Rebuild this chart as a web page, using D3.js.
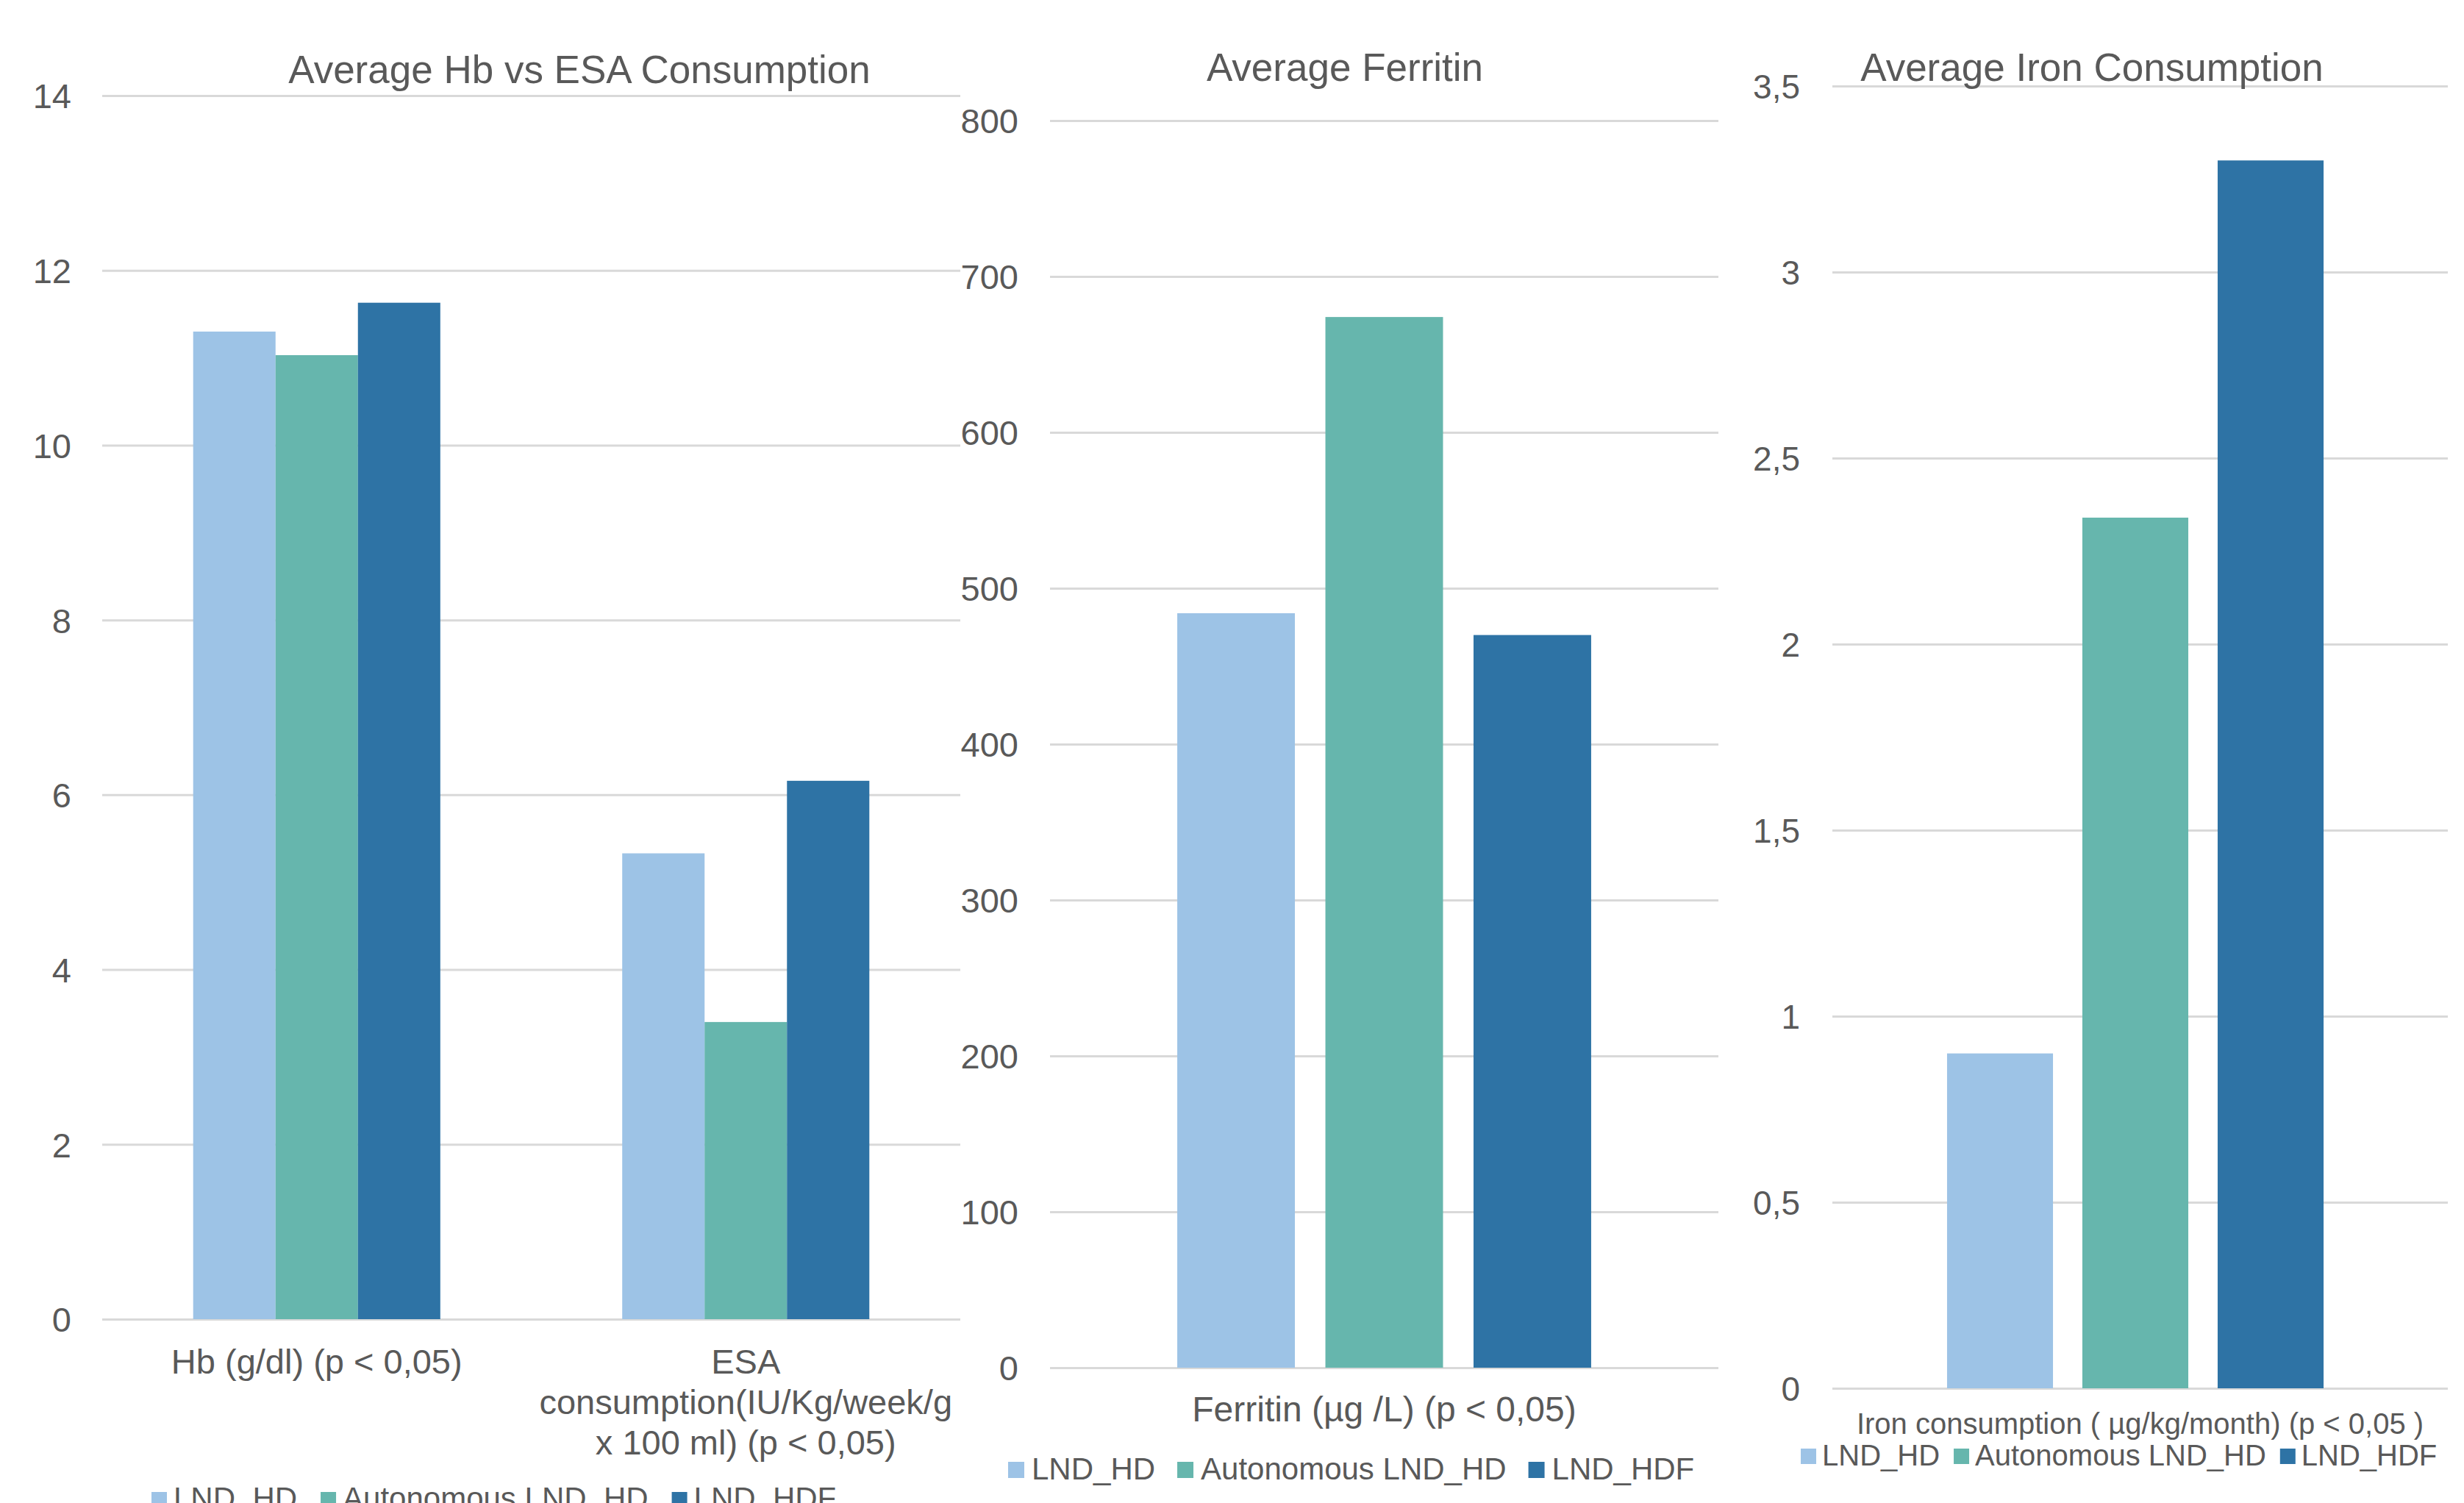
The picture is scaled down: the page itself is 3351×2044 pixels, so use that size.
<!DOCTYPE html>
<html>
<head>
<meta charset="utf-8">
<script src="https://cdn.jsdelivr.net/npm/d3@7"></script>
<style>
  html, body { margin: 0; padding: 0; background: #ffffff; }
  svg { display: block; font-family: "Liberation Sans", Arial, sans-serif; }
</style>
</head>
<body>
<svg id="chart" width="3351" height="2044"></svg>
<script>
// Patient groups compared in every panel
const groups = ["LND_HD", "Autonomous LND_HD", "LND_HDF"];

// Panel 1 – average haemoglobin vs ESA consumption
const hbEsaCategories = ["Hb", "ESA"];
const hbEsaCategoryLabels = [
  ["Hb (g/dl) (p < 0,05)"],
  ["ESA", "consumption(IU/Kg/week/g", "x 100 ml) (p < 0,05)"]
];
const hbValues = [11.30, 11.03, 11.63];
const esaValues = [5.33, 3.40, 6.16];
const hbEsaTicks = [0, 2, 4, 6, 8, 10, 12, 14];

// Panel 2 – average ferritin
const ferritinLabel = "Ferritin (µg /L) (p < 0,05)";
const ferritinValues = [484, 674, 470];
const ferritinTicks = [0, 100, 200, 300, 400, 500, 600, 700, 800];

// Panel 3 – average iron consumption
const ironLabel = "Iron consumption ( µg/kg/month) (p < 0,05 )";
const ironValues = [0.90, 2.34, 3.30];
const ironTicks = [0, 0.5, 1, 1.5, 2, 2.5, 3, 3.5];

const panelTitles = ["Average Hb vs ESA Consumption", "Average Ferritin", "Average Iron Consumption"];

// Styling
const color = d3.scaleOrdinal().domain(groups).range(["#9DC3E6", "#66B6AD", "#2E73A5"]);
const textColor = "#595959";
const gridColor = "#D9D9D9";
const FONT = '"Liberation Sans", Arial, sans-serif';

// Decimal comma number format
const locale = d3.formatLocale({ decimal: ",", thousands: ".", grouping: [3], currency: ["", " €"] });
const fmt = locale.format(".1~f");

const svg = d3.select("#chart");

function drawGrid(g, y, ticks, x0, x1, pad, fontSize) {
  const axis = d3.axisLeft(y)
    .tickValues(ticks)
    .tickSize(-(x1 - x0))
    .tickPadding(pad)
    .tickFormat(fmt);
  g.attr("transform", `translate(${x0},0)`).call(axis);
  g.attr("font-family", FONT).attr("font-size", fontSize);
  g.select(".domain").remove();
  g.selectAll(".tick line").attr("stroke", gridColor).attr("stroke-width", 3);
  g.selectAll(".tick text").attr("fill", textColor).attr("dy", "0.36em");
}

function drawTitle(text, cx, baseline, fontSize) {
  svg.append("text")
    .attr("x", cx).attr("y", baseline)
    .attr("text-anchor", "middle")
    .attr("font-size", fontSize)
    .attr("fill", textColor)
    .text(text);
}

function drawLegend(x, baseline, fontSize, sq, gapSquare, gapItem) {
  const g = svg.append("g").attr("font-size", fontSize).attr("fill", textColor);
  let cx = x;
  groups.forEach(name => {
    g.append("rect")
      .attr("x", cx).attr("y", baseline - sq - 2)
      .attr("width", sq).attr("height", sq)
      .attr("fill", color(name));
    const t = g.append("text")
      .attr("x", cx + sq + gapSquare).attr("y", baseline)
      .text(name);
    cx += sq + gapSquare + t.node().getComputedTextLength() + gapItem;
  });
}

// ---------- Panel 1: grouped bars ----------
{
  const x0 = 139, x1 = 1306;
  const y = d3.scaleLinear().domain([0, 14]).range([1794, 130]);
  const xCat = d3.scaleBand().domain(hbEsaCategories).range([x0, x1])
    .paddingInner(0.424).paddingOuter(0.212);
  const xGrp = d3.scaleBand().domain(groups).range([0, xCat.bandwidth()]);

  drawGrid(svg.append("g"), y, hbEsaTicks, x0, x1, 42, 47);

  const series = [hbValues, esaValues];
  const cat = svg.append("g").selectAll("g")
    .data(hbEsaCategories)
    .join("g")
    .attr("transform", d => `translate(${xCat(d)},0)`);
  cat.selectAll("rect")
    .data((d, i) => groups.map((grp, j) => ({ grp, value: series[i][j] })))
    .join("rect")
    .attr("x", d => xGrp(d.grp))
    .attr("width", xGrp.bandwidth())
    .attr("y", d => y(d.value))
    .attr("height", d => y(0) - y(d.value))
    .attr("fill", d => color(d.grp));

  // category labels (wrapped)
  hbEsaCategories.forEach((c, i) => {
    const t = svg.append("text")
      .attr("text-anchor", "middle")
      .attr("font-size", 47)
      .attr("fill", textColor);
    hbEsaCategoryLabels[i].forEach((line, k) => {
      t.append("tspan")
        .attr("x", xCat(c) + xCat.bandwidth() / 2)
        .attr("y", 1868 + k * 55)
        .text(line);
    });
  });

  drawTitle(panelTitles[0], 788, 113, 53);
  drawLegend(206, 2052, 42, 21, 9, 32);
}

// ---------- Panel 2: ferritin ----------
{
  const x0 = 1428, x1 = 2337;
  const y = d3.scaleLinear().domain([0, 800]).range([1860, 164]);
  const x = d3.scaleBand().domain(groups).range([x0, x1])
    .paddingInner(0.206).paddingOuter(0.859);

  drawGrid(svg.append("g"), y, ferritinTicks, x0, x1, 43, 47);

  svg.append("g").selectAll("rect")
    .data(groups.map((grp, j) => ({ grp, value: ferritinValues[j] })))
    .join("rect")
    .attr("x", d => x(d.grp))
    .attr("width", x.bandwidth())
    .attr("y", d => y(d.value))
    .attr("height", d => y(0) - y(d.value))
    .attr("fill", d => color(d.grp));

  svg.append("text")
    .attr("x", (x0 + x1) / 2).attr("y", 1933)
    .attr("text-anchor", "middle")
    .attr("font-size", 48)
    .attr("fill", textColor)
    .text(ferritinLabel);

  drawTitle(panelTitles[1], 1829, 110, 53);
  drawLegend(1371, 2012, 42, 22, 10, 30);
}

// ---------- Panel 3: iron consumption ----------
{
  const x0 = 2492, x1 = 3329;
  const y = d3.scaleLinear().domain([0, 3.5]).range([1888, 117]);
  const x = d3.scaleBand().domain(groups).range([x0, x1])
    .paddingInner(0.217).paddingOuter(0.883).align(0.48);

  drawGrid(svg.append("g"), y, ironTicks, x0, x1, 44, 46);

  svg.append("g").selectAll("rect")
    .data(groups.map((grp, j) => ({ grp, value: ironValues[j] })))
    .join("rect")
    .attr("x", d => x(d.grp))
    .attr("width", x.bandwidth())
    .attr("y", d => y(d.value))
    .attr("height", d => y(0) - y(d.value))
    .attr("fill", d => color(d.grp));

  svg.append("text")
    .attr("x", (x0 + x1) / 2).attr("y", 1950)
    .attr("text-anchor", "middle")
    .attr("font-size", 40)
    .attr("fill", textColor)
    .text(ironLabel);

  drawTitle(panelTitles[2], 2845, 110, 53);
  drawLegend(2449, 1993, 40, 21, 8, 19);
}
</script>
</body>
</html>
